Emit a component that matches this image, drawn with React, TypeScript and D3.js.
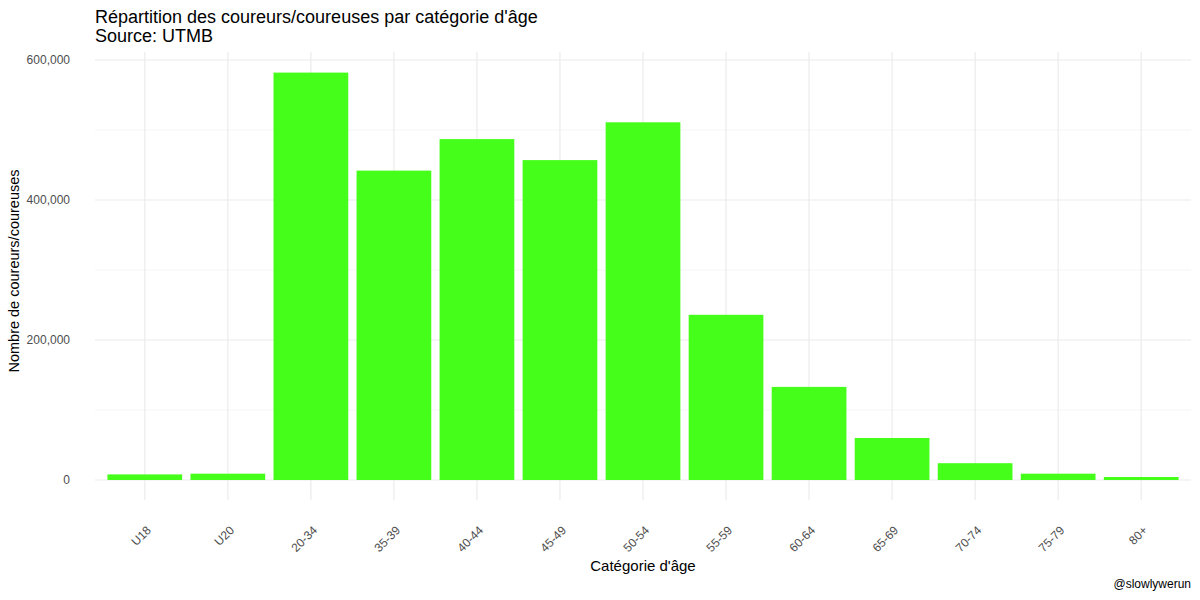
import { useEffect, useRef } from "react";
import * as d3 from "d3";

const categories = ["U18", "U20", "20-34", "35-39", "40-44", "45-49", "50-54", "55-59", "60-64", "65-69", "70-74", "75-79", "80+"];
const runners = [8000, 9000, 582000, 442000, 487000, 457000, 511000, 236000, 133000, 60000, 24000, 9000, 4300];
const yTicks = [0, 200000, 400000, 600000];
const yMinor = [100000, 300000, 500000];

export default function App() {
  const svgRef = useRef<SVGSVGElement>(null);

  useEffect(() => {
    const svg = d3.select(svgRef.current);
    svg.selectAll("*").remove();

    const left = 95, right = 1191, top = 52, bottom = 500;
    const font = "Liberation Sans, Arial, sans-serif";

    // ggplot-style discrete expansion: 0.6 step on each side
    const x = d3.scaleBand().domain(categories).range([left, right]).paddingInner(0.1).paddingOuter(0.15);
    const y = d3.scaleLinear().domain([0, 600000]).range([480, 60]);

    const g = svg.append("g");

    g.selectAll(".minor").data(yMinor).enter().append("line")
      .attr("x1", left).attr("x2", right)
      .attr("y1", d => y(d)).attr("y2", d => y(d))
      .attr("stroke", "#f2f2f2").attr("stroke-width", 0.8);
    g.selectAll(".major").data(yTicks).enter().append("line")
      .attr("x1", left).attr("x2", right)
      .attr("y1", d => y(d)).attr("y2", d => y(d))
      .attr("stroke", "#ebebeb").attr("stroke-width", 1.2);
    g.selectAll(".vgrid").data(categories).enter().append("line")
      .attr("x1", d => x(d)! + x.bandwidth() / 2).attr("x2", d => x(d)! + x.bandwidth() / 2)
      .attr("y1", top).attr("y2", bottom)
      .attr("stroke", "#ebebeb").attr("stroke-width", 1.2);

    g.selectAll(".bar").data(categories).enter().append("rect")
      .attr("x", d => x(d)!).attr("width", x.bandwidth())
      .attr("y", (d, i) => y(runners[i]))
      .attr("height", (d, i) => y(0) - y(runners[i]))
      .attr("fill", "#45ff1a");

    const fmt = d3.format(",");
    g.selectAll(".ylab").data(yTicks).enter().append("text")
      .attr("x", 70).attr("y", d => y(d) + 4)
      .attr("text-anchor", "end")
      .style("font-family", font).style("font-size", "12px").style("fill", "#4d4d4d")
      .text(d => fmt(d));

    g.selectAll(".xlab").data(categories).enter().append("text")
      .attr("transform", d => `translate(${x(d)! + x.bandwidth() / 2 + 7},${531}) rotate(-45)`)
      .attr("text-anchor", "end")
      .style("font-family", font).style("font-size", "12px").style("fill", "#4d4d4d")
      .text(d => d);

    svg.append("text").attr("x", 95).attr("y", 22.5)
      .style("font-family", font).style("font-size", "18px").style("fill", "#000")
      .text("Répartition des coureurs/coureuses par catégorie d'âge");
    svg.append("text").attr("x", 95).attr("y", 41.5)
      .style("font-family", font).style("font-size", "18px").style("fill", "#000")
      .text("Source: UTMB");

    svg.append("text").attr("x", (left + right) / 2).attr("y", 571)
      .attr("text-anchor", "middle")
      .style("font-family", font).style("font-size", "15px").style("fill", "#000")
      .text("Catégorie d'âge");
    svg.append("text").attr("transform", `translate(19,${(top + bottom) / 2 - 5}) rotate(-90)`)
      .attr("text-anchor", "middle")
      .style("font-family", font).style("font-size", "14.5px").style("fill", "#000")
      .text("Nombre de coureurs/coureuses");
    svg.append("text").attr("x", 1191).attr("y", 588)
      .attr("text-anchor", "end")
      .style("font-family", font).style("font-size", "12px").style("fill", "#000")
      .text("@slowlywerun");
  }, []);

  return <svg ref={svgRef} width={1200} height={600} style={{ position: "absolute", left: 0, top: 0, background: "#fff" }} />;
}
